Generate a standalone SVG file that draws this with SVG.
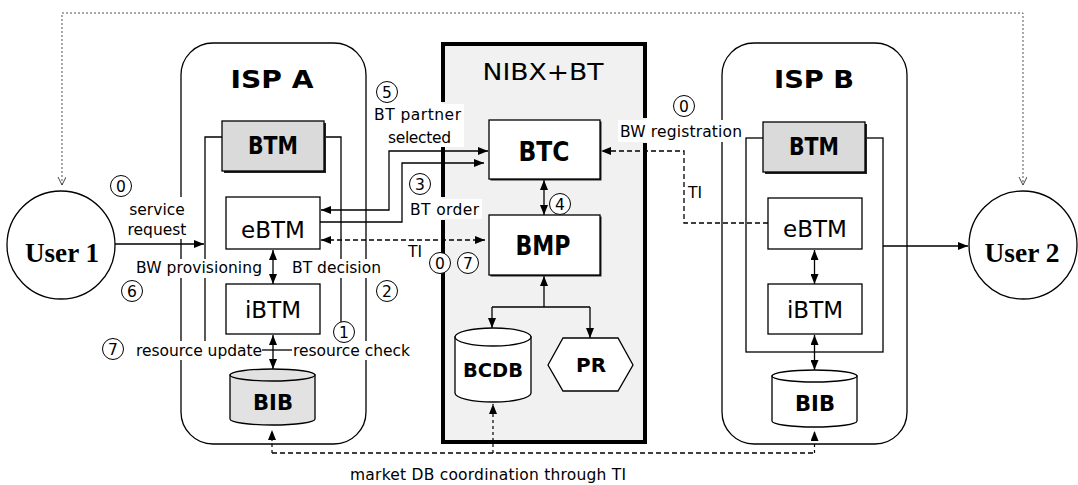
<svg xmlns="http://www.w3.org/2000/svg" width="1078" height="485" viewBox="0 0 1078 485">
<defs>
<marker id="ah" markerUnits="userSpaceOnUse" markerWidth="10" markerHeight="8" refX="10" refY="4" orient="auto-start-reverse"><path d="M0,0 L10,4 L0,8 z" fill="#000"/></marker>
<marker id="ov" markerUnits="userSpaceOnUse" markerWidth="10" markerHeight="10" refX="8" refY="4" orient="auto-start-reverse"><path d="M0,0 L8,4 L0,8" fill="none" stroke="#444" stroke-width="1"/></marker>
</defs>
<style>
.ln{fill:none;stroke:#000;stroke-width:1.3}
.dash{fill:none;stroke:#000;stroke-width:1.3;stroke-dasharray:5,3}
.fdash{fill:none;stroke:#000;stroke-width:1.2;stroke-dasharray:3,3}
.dot{fill:none;stroke:#555;stroke-width:1;stroke-dasharray:2,2}
.box{fill:#fff;stroke:#000;stroke-width:1.3}
.gbox{fill:#dadada;stroke:#000;stroke-width:1.3}
.shd{fill:#222}
.cont{fill:#fff;stroke:#000;stroke-width:1.3}
.lbl{font-family:"DejaVu Sans",Verdana,sans-serif;font-size:15.5px;fill:#000}
.big{font-family:"DejaVu Sans",Verdana,sans-serif;font-size:23px;text-anchor:middle}
.bold{font-family:"DejaVu Sans",Verdana,sans-serif;font-weight:bold;text-anchor:middle}
.usr{font-family:"Liberation Serif","Times New Roman",serif;font-weight:bold;font-size:28px;text-anchor:middle}
.num{font-family:"DejaVu Sans",Verdana,sans-serif;font-size:15.5px;text-anchor:middle}
.nc{fill:#fff;stroke:#000;stroke-width:1}
.bg{fill:#fff}
</style>
<rect width="1078" height="485" fill="#fff"/>

<g id="ispA">
<rect class="cont" x="181" y="43" width="185" height="401" rx="32"/>
<text class="bold" x="272" y="88" font-size="24" textLength="83" lengthAdjust="spacingAndGlyphs">ISP A</text>
<path class="ln" d="M222,137 H205 V345 M324,137 H341 V322"/>
</g>
<g id="ispB">
<rect class="cont" x="722" y="43" width="185" height="401" rx="32"/>
<text class="bold" x="814" y="88" font-size="24" textLength="80" lengthAdjust="spacingAndGlyphs">ISP B</text>
<rect class="ln" x="746" y="138" width="137" height="214"/>
</g>
<g id="nibx">
<rect x="442" y="43" width="204" height="400" fill="#f1f1f1"/>
<path d="M443,102 V44 H645 V118 M645,143 V442 H443 V220 M443,197 V147" fill="none" stroke="#000" stroke-width="4"/>
<text class="big" x="543" y="80" font-size="24" textLength="121" lengthAdjust="spacingAndGlyphs">NIBX+BT</text>
</g>

<g id="connectors">
<path class="dot" d="M62,185 V13 H1023 V185" marker-start="url(#ov)" marker-end="url(#ov)"/>
<path class="ln" d="M115,244 H204" marker-end="url(#ah)"/>
<path class="ln" d="M321,210 H389 V151 H488" marker-start="url(#ah)" marker-end="url(#ah)"/>
<path class="ln" d="M320,222 H402 V163 H484" marker-end="url(#ah)"/>
<path class="dash" d="M321,240 H485" marker-start="url(#ah)" marker-end="url(#ah)"/>
<path class="ln" d="M544,180 V215" marker-start="url(#ah)" marker-end="url(#ah)"/>
<path class="ln" d="M544,307 V276" marker-end="url(#ah)"/>
<path class="ln" d="M492,307 H590"/>
<path class="ln" d="M492,307 V328" marker-end="url(#ah)"/>
<path class="ln" d="M590,307 V338" marker-end="url(#ah)"/>
<path class="ln" d="M273,250 V284" marker-start="url(#ah)" marker-end="url(#ah)"/>
<path class="ln" d="M273,335 V369" marker-start="url(#ah)" marker-end="url(#ah)"/>
<path class="ln" d="M262,350 H292"/>
<path class="ln" d="M814.5,250 V284" marker-start="url(#ah)" marker-end="url(#ah)"/>
<path class="ln" d="M814.5,335 V370" marker-start="url(#ah)" marker-end="url(#ah)"/>
<path class="ln" d="M883,246 H968" marker-end="url(#ah)"/>
<path class="dash" d="M768,223 H684 V151 H601" marker-end="url(#ah)"/>
<path class="dash" d="M272,453 H814.5"/>
<path class="fdash" d="M272,453 V430" marker-end="url(#ah)"/>
<path class="fdash" d="M814.5,453 V431" marker-end="url(#ah)"/>
<path class="fdash" d="M493,453 V404" marker-end="url(#ah)"/>
</g>

<g id="user1">
<circle cx="61" cy="245" r="54" fill="#fff" stroke="#000" stroke-width="1.3"/>
<text class="usr" x="62" y="262" textLength="74" lengthAdjust="spacingAndGlyphs">User 1</text>
</g>
<g id="user2">
<circle cx="1023" cy="245" r="54" fill="#fff" stroke="#000" stroke-width="1.3"/>
<text class="usr" x="1022" y="262" textLength="75" lengthAdjust="spacingAndGlyphs">User 2</text>
</g>

<g id="btmA">
<rect class="shd" x="224" y="123" width="102" height="50"/>
<rect class="gbox" x="222" y="121" width="102" height="50"/>
<text class="bold" x="273" y="154" font-size="24" textLength="50" lengthAdjust="spacingAndGlyphs">BTM</text>
</g>
<g id="ebtmA">
<rect class="box" x="226" y="197" width="94" height="52"/>
<text class="big" x="273" y="238">eBTM</text>
</g>
<g id="ibtmA">
<rect class="box" x="226" y="284" width="94" height="50"/>
<text class="big" x="273" y="318">iBTM</text>
</g>
<g id="bibA">
<path d="M230,375 V419 A42.5,6 0 0 0 315,419 V375 Z" fill="#e2e2e2" stroke="#000" stroke-width="1.3"/>
<ellipse cx="272.5" cy="375" rx="42.5" ry="6" fill="#e2e2e2" stroke="#000" stroke-width="1.3"/>
<text class="bold" x="273" y="410" font-size="22" textLength="40" lengthAdjust="spacingAndGlyphs">BIB</text>
</g>

<g id="btmB">
<rect class="shd" x="765" y="124" width="102" height="50"/>
<rect class="gbox" x="763" y="122" width="102" height="50"/>
<text class="bold" x="814" y="155" font-size="24" textLength="50" lengthAdjust="spacingAndGlyphs">BTM</text>
</g>
<g id="ebtmB">
<rect class="box" x="768" y="198" width="94" height="51"/>
<text class="big" x="815" y="237">eBTM</text>
</g>
<g id="ibtmB">
<rect class="box" x="768" y="284" width="94" height="50"/>
<text class="big" x="815" y="318">iBTM</text>
</g>
<g id="bibB">
<path d="M772,376 V421 A42.5,6 0 0 0 857,421 V376 Z" fill="#fff" stroke="#000" stroke-width="1.3"/>
<ellipse cx="814.5" cy="376" rx="42.5" ry="6" fill="#fff" stroke="#000" stroke-width="1.3"/>
<text class="bold" x="815" y="411" font-size="22" textLength="40" lengthAdjust="spacingAndGlyphs">BIB</text>
</g>

<g id="btc">
<rect class="shd" x="490.5" y="121.5" width="111" height="59"/>
<rect class="box" x="489" y="120" width="111" height="59"/>
<text class="bold" x="544" y="161" font-size="26" textLength="51" lengthAdjust="spacingAndGlyphs">BTC</text>
</g>
<g id="bmp">
<rect class="shd" x="490.5" y="216.5" width="111" height="60"/>
<rect class="box" x="489" y="215" width="111" height="60"/>
<text class="bold" x="543" y="255" font-size="26" textLength="55" lengthAdjust="spacingAndGlyphs">BMP</text>
</g>
<g id="bcdb">
<path d="M455,337 V393 A38,9 0 0 0 531,393 V337 Z" fill="#fff" stroke="#000" stroke-width="1.3"/>
<ellipse cx="493" cy="337" rx="38" ry="9" fill="#fff" stroke="#000" stroke-width="1.3"/>
<text class="bold" x="493" y="377" font-size="19" textLength="60" lengthAdjust="spacingAndGlyphs">BCDB</text>
</g>
<g id="pr">
<path d="M548,365 L563,338 H618 L633,365 L618,391 H563 Z" fill="#fff" stroke="#000" stroke-width="1.3"/>
<text class="bold" x="591" y="372" font-size="19" textLength="30" lengthAdjust="spacingAndGlyphs">PR</text>
</g>

<g id="labels">
<rect class="bg" x="127" y="197" width="62" height="42"/>
<rect class="bg" x="134" y="259" width="131" height="19"/>
<rect class="bg" x="290" y="259" width="93" height="19"/>
<rect class="bg" x="134" y="341" width="128" height="19"/>
<rect class="bg" x="292" y="341" width="120" height="19"/>
<rect class="bg" x="372" y="104" width="92" height="43"/>
<rect class="bg" x="408" y="199" width="74" height="20"/>
<rect class="bg" x="618" y="120" width="126" height="22"/>
<text class="lbl" x="157" y="215" text-anchor="middle">service</text>
<text class="lbl" x="157" y="235" text-anchor="middle">request</text>
<text class="lbl" x="136" y="273" textLength="126">BW provisioning</text>
<text class="lbl" x="292" y="273" textLength="89">BT decision</text>
<text class="lbl" x="136" y="356" textLength="126">resource update</text>
<text class="lbl" x="293" y="356" textLength="117">resource check</text>
<text class="lbl" x="374" y="120" textLength="87">BT partner</text>
<text class="lbl" x="388" y="143" textLength="63">selected</text>
<text class="lbl" x="410" y="215" textLength="69">BT order</text>
<text class="lbl" x="408" y="257">TI</text>
<text class="lbl" x="620" y="137" textLength="122">BW registration</text>
<text class="lbl" x="688" y="198">TI</text>
<text class="lbl" x="350" y="480" textLength="276">market DB coordination through TI</text>
</g>

<g id="steps">
<circle class="nc" cx="121" cy="186" r="10.5"/><text class="num" x="121" y="191.5">0</text>
<circle class="nc" cx="132" cy="291" r="10.5"/><text class="num" x="132" y="296.5">6</text>
<circle class="nc" cx="387" cy="291" r="10.5"/><text class="num" x="387" y="296.5">2</text>
<circle class="nc" cx="344" cy="332" r="10.5"/><text class="num" x="344" y="337.5">1</text>
<circle class="nc" cx="113" cy="349" r="10.5"/><text class="num" x="113" y="354.5">7</text>
<circle class="nc" cx="387" cy="92" r="10.5"/><text class="num" x="387" y="97.5">5</text>
<circle class="nc" cx="420" cy="184" r="10.5"/><text class="num" x="420" y="189.5">3</text>
<circle class="nc" cx="560" cy="204" r="10.5"/><text class="num" x="560" y="209.5">4</text>
<circle class="nc" cx="684" cy="106" r="10.5"/><text class="num" x="684" y="111.5">0</text>
<circle class="nc" cx="440" cy="263" r="10.5"/><text class="num" x="440" y="268.5">0</text>
<circle class="nc" cx="468" cy="263" r="10.5"/><text class="num" x="468" y="268.5">7</text>
</g>
</svg>
